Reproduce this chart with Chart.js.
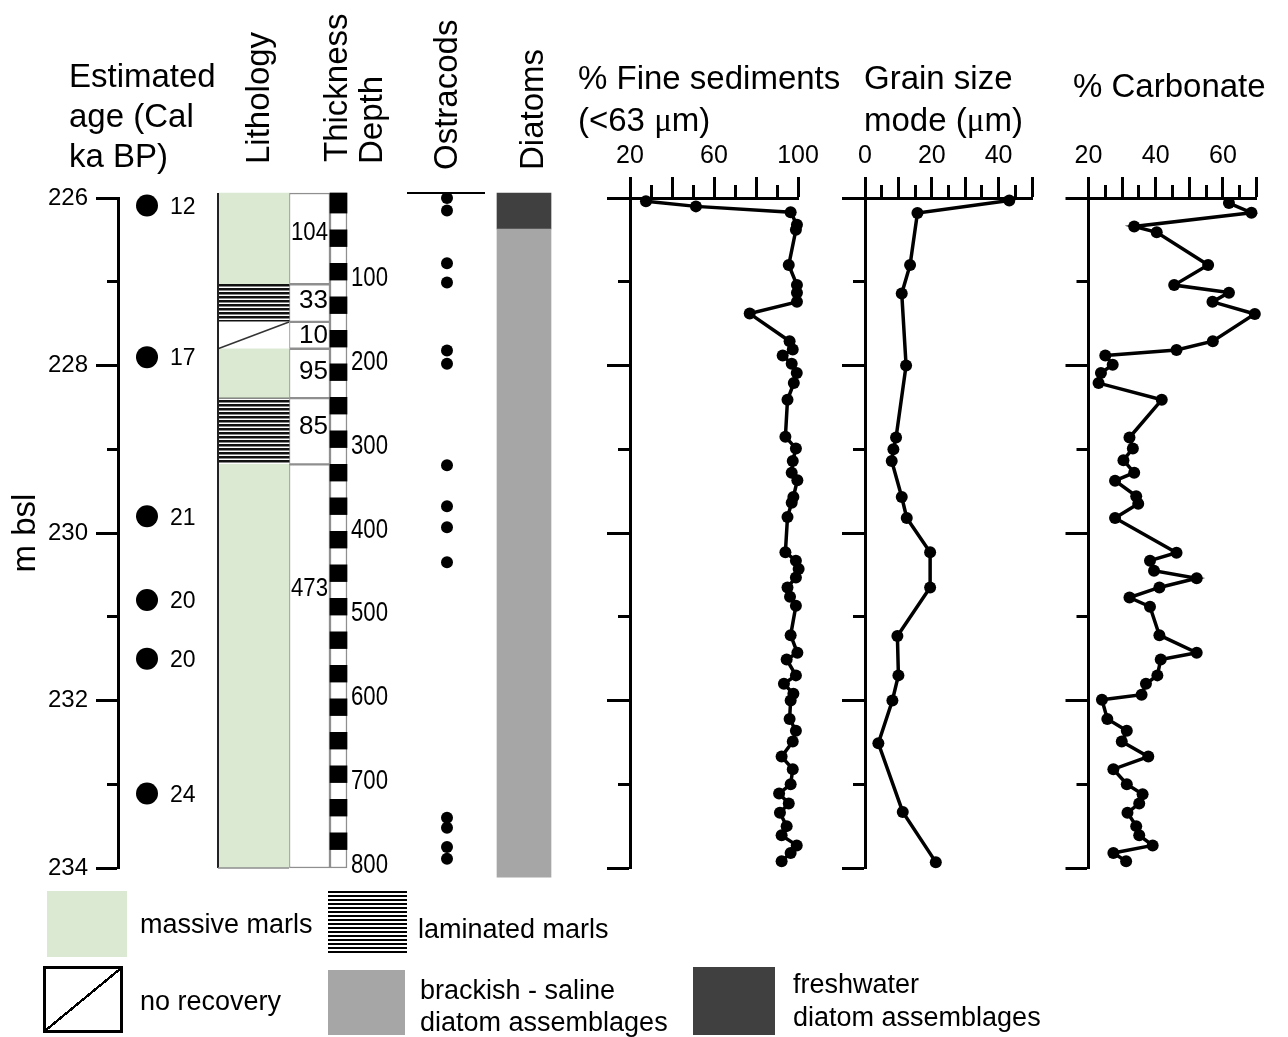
<!DOCTYPE html>
<html>
<head>
<meta charset="utf-8">
<title>Core log</title>
<script src="https://cdn.jsdelivr.net/npm/chart.js@4.4.1/dist/chart.umd.min.js"></script>
<style>
  body { margin: 0; background: #fff; }
  #page { position: relative; width: 1288px; height: 1037px; overflow: hidden; font-family: "Liberation Sans", Arial, sans-serif; color: #000; }
  #page canvas { position: absolute; left: 0; top: 0; }
  .head { position: absolute; font-size: 33px; line-height: 42px; white-space: nowrap; }
  .up { position: absolute; font-size: 33px; line-height: 33px; white-space: nowrap; transform-origin: 0 0; transform: rotate(-90deg); }
  .key { position: absolute; font-size: 27px; line-height: 30px; white-space: nowrap; }
  .swatch { position: absolute; box-sizing: border-box; }
  .mu { font-family: "Liberation Serif", serif; }
</style>
</head>
<body>
<div id="page">
  <canvas id="core" width="1288" height="1037"></canvas>
  <canvas id="fine" width="1288" height="1037"></canvas>
  <canvas id="grain" width="1288" height="1037"></canvas>
  <canvas id="carb" width="1288" height="1037"></canvas>

  <div class="head" style="left:69px;top:56px;line-height:40px">Estimated<br>age (Cal<br>ka BP)</div>
  <div class="up" style="left:241px;top:164px">Lithology</div>
  <div class="up" style="left:319px;top:162px">Thickness</div>
  <div class="up" style="left:354px;top:164px">Depth</div>
  <div class="up" style="left:429px;top:170px">Ostracods</div>
  <div class="up" style="left:515px;top:170px">Diatoms</div>
  <div class="head" style="left:578px;top:57px">% Fine sediments<br>(&lt;63 <span class="mu">μ</span>m)</div>
  <div class="head" style="left:864px;top:57px">Grain size<br>mode (<span class="mu">μ</span>m)</div>
  <div class="head" style="left:1073px;top:65px">% Carbonate</div>

  <div class="swatch" style="left:47px;top:891px;width:80px;height:66px;background:#dbe9d3"></div>
  <div class="key" style="left:140px;top:909px">massive marls</div>
  <div class="swatch" style="left:328px;top:891px;width:79px;height:64px;background:repeating-linear-gradient(#000 0 2.5px,#fff 2.5px 4px)"></div>
  <div class="key" style="left:418px;top:914px">laminated marls</div>
  <div class="swatch" style="left:43px;top:966px;width:80px;height:67px;border:3px solid #000;background:linear-gradient(to bottom right,transparent calc(50% - 1.2px),#000 calc(50% - 1.2px),#000 calc(50% + 1.2px),transparent calc(50% + 1.2px))"></div>
  <div class="key" style="left:140px;top:986px">no recovery</div>
  <div class="swatch" style="left:328px;top:970px;width:77px;height:65px;background:#a6a6a6"></div>
  <div class="key" style="left:420px;top:974px;line-height:32px">brackish - saline<br>diatom assemblages</div>
  <div class="swatch" style="left:693px;top:967px;width:82px;height:68px;background:#404040"></div>
  <div class="key" style="left:793px;top:968px;line-height:33px">freshwater<br>diatom assemblages</div>
</div>

<script>
// all depths are cm below the core top (0 cm = 226 m bsl)
const ageDepth = [9, 190, 380, 480, 550, 711];
const ageLabel = ["12", "17", "21", "20", "20", "24"];

const coreTop = -6;
const lithTop = [coreTop, 103, 148, 180, 239, 318];
const lithBottom = [103, 148, 180, 239, 318, 800];
const lithType = ["massive", "laminated", "none", "massive", "laminated", "massive"];
const thickness = ["104", "33", "10", "95", "85", "473"];
const thicknessLabelDepth = [42, 123, 165, 207, 273, 467];

const rulerStart = [0, 40, 80, 120, 160, 200, 240, 280, 320, 360, 400, 440, 480, 520, 560, 600, 640, 680, 720, 760];
const depthTicks = [100, 200, 300, 400, 500, 600, 700, 800];

const ostracodDepth = [0, 15, 78, 101, 182, 198, 319, 368, 393, 435, 740, 752, 775, 789];

const diatomTop = [coreTop, 37];
const diatomBottom = [37, 811];
const diatomType = ["freshwater", "brackish"];

const fineDepth = [4, 10, 17, 32, 38, 80, 104, 113, 124, 138, 171, 181, 188, 198, 209, 221, 241, 285, 299, 314, 328, 337, 357, 364, 381, 423, 433, 443, 453, 465, 476, 487, 522, 543, 551, 570, 580, 592, 600, 622, 636, 649, 667, 682, 700, 711, 723, 734, 750, 761, 773, 782, 792];
const fineValue = [27.6, 51.4, 96.5, 99.5, 99, 95.6, 99.5, 99.5, 99.5, 77, 96, 97.5, 92.7, 97, 99.4, 98, 95, 94, 99, 97.5, 97, 99.7, 97.8, 97, 95, 94, 99, 100.3, 99, 95, 96.2, 99, 96.5, 99.7, 94.6, 99, 93.3, 97.8, 96.5, 96, 99, 97.5, 92.2, 97.5, 96.5, 91, 95.6, 91.4, 94.6, 92.2, 99.4, 96.5, 92.2];

const grainDepth = [3, 18, 80, 114, 200, 286, 300, 314, 357, 382, 423, 465, 523, 570, 600, 651, 733, 793];
const grainValue = [43.2, 15.7, 13.5, 11, 12.3, 9.3, 8.5, 8, 11, 12.5, 19.5, 19.5, 9.7, 10, 8.2, 4, 11.3, 21.2];

const carbDepth = [6, 17.5, 34, 41, 80, 104, 113, 124, 138.5, 171, 181.5, 188, 199, 209, 221, 241, 286, 299, 313, 328, 337.5, 356, 365, 382, 423.5, 433, 445, 454, 465, 477, 488, 522, 543, 551, 570, 580, 593, 599, 622, 636, 649, 667, 682, 700, 712, 723, 734, 750, 761, 773, 782, 792];
const carbValue = [61.8, 68.5, 33.6, 40.3, 55.6, 45.5, 61.8, 56.9, 69.5, 57, 46.2, 25, 27.2, 23.7, 23, 41.8, 32.2, 33.2, 30.4, 33.6, 27.9, 34.2, 34.8, 27.9, 46.2, 38.3, 39.5, 52.2, 41.1, 32.2, 38.3, 41.1, 52.2, 41.5, 40.5, 37.1, 35.8, 24, 25.6, 31.4, 29.9, 37.8, 27.4, 31.4, 36.1, 35.1, 31.6, 34.2, 35.1, 39.1, 27.4, 31.2];

// layout (page pixels)
const depthTopPx = 198, depthBottomPx = 868;
const coreArea = { left: 118, right: 600 };
const col = { age: 147, lith: 253.5, thick: 309.5, ruler: 338.5, ostracod: 447, diatom: 524 };
const colWidth = { lith: 71, thick: 41, ruler: 17, diatom: 54 };
const FONT = '"Liberation Sans", Arial, sans-serif';

Chart.defaults.font.family = FONT;
Chart.defaults.color = "#000";
Chart.defaults.animation = false;
Chart.defaults.events = [];
Chart.defaults.plugins.legend.display = false;
Chart.defaults.plugins.tooltip.enabled = false;

// long ticks on major values, short ones (drawn only next to the axis) elsewhere
const axisGrid = (len, minor, isMajor) => ({
    drawOnChartArea: false,
    tickLength: len,
    tickWidth: 3,
    tickColor: "#000",
    tickBorderDash: (c) => (c.tick && !isMajor(c.tick.value) ? [minor, len - minor] : []),
    tickBorderDashOffset: minor
});

// shift the padding so the plot area lands on the wanted pixels
const pin = (chart, left, top) => {
    const pad = chart.config.options.layout.padding;
    pad.left += left - chart.chartArea.left;
    pad.top += top - chart.chartArea.top;
    chart.update();
};

const lamina_tile = document.createElement("canvas");
lamina_tile.width = 8;
lamina_tile.height = 4;
const tile_ctx = lamina_tile.getContext("2d");
tile_ctx.fillStyle = "#fff";
tile_ctx.fillRect(0, 0, 8, 4);
tile_ctx.fillStyle = "#111";
tile_ctx.fillRect(0, 0, 8, 2.5);
const lamina = tile_ctx.createPattern(lamina_tile, "repeat");

const lithFill = { massive: "#dbe9d3", laminated: lamina, none: "#fff" };
const diatomFill = { freshwater: "#404040", brackish: "#a6a6a6" };
const frameGrey = "#8f8f8f";

const barBase = { type: "bar", grouped: false, barPercentage: 1, categoryPercentage: 1, clip: false, borderSkipped: false };

const coreNotes = {
    id: "coreNotes",
    afterDatasetsDraw(chart) {
        const ctx = chart.ctx;
        const y = chart.scales.y;
        const meta = (label) => chart.getDatasetMeta(chart.data.datasets.findIndex((d) => d.label === label));
        ctx.save();

        const lith = meta("Lithology").data;
        const lithLeft = lith[0].x - lith[0].width / 2;
        const lithRight = lith[0].x + lith[0].width / 2;
        lith.forEach((bar, i) => {
            if (lithType[i] !== "none") return;
            ctx.strokeStyle = "#333";
            ctx.lineWidth = 1.5;
            ctx.beginPath();
            ctx.moveTo(lithLeft, Math.max(bar.y, bar.base));
            ctx.lineTo(lithRight, Math.min(bar.y, bar.base));
            ctx.stroke();
        });

        ctx.strokeStyle = "#222";
        ctx.lineWidth = 2;
        ctx.beginPath();
        ctx.moveTo(lithLeft, y.getPixelForValue(coreTop));
        ctx.lineTo(lithLeft, y.getPixelForValue(800));
        ctx.stroke();
        ctx.strokeStyle = frameGrey;
        ctx.lineWidth = 1.5;
        ctx.beginPath();
        ctx.moveTo(lithLeft, y.getPixelForValue(800));
        ctx.lineTo(lithRight, y.getPixelForValue(800));
        ctx.stroke();

        // ostracod column top line
        ctx.strokeStyle = "#000";
        ctx.lineWidth = 2;
        ctx.beginPath();
        ctx.moveTo(col.ostracod - 40, y.getPixelForValue(coreTop));
        ctx.lineTo(col.ostracod + 38, y.getPixelForValue(coreTop));
        ctx.stroke();

        ctx.fillStyle = "#000";
        ctx.textBaseline = "middle";
        ctx.textAlign = "left";
        ctx.font = "23px " + FONT;
        meta("Ages").data.forEach((pt, i) => ctx.fillText(ageLabel[i], pt.x + 23, pt.y + 2));

        ctx.textAlign = "right";
        ctx.font = "26px " + FONT;
        const thickRight = col.thick + colWidth.thick / 2;
        thickness.forEach((t, i) => ctx.fillText(t, thickRight - 2, y.getPixelForValue(thicknessLabelDepth[i]), 37));

        ctx.textAlign = "left";
        ctx.font = "28px " + FONT;
        const rulerRight = col.ruler + colWidth.ruler / 2;
        depthTicks.forEach((v) => ctx.fillText(String(v), rulerRight + 4, y.getPixelForValue(v) - 3, 37));
        ctx.restore();
    }
};

const coreConfig = {
    type: "bar",
    data: {
        datasets: [
            {
                label: "Ages", type: "scatter", clip: false, order: 0,
                data: ageDepth.map((d) => ({ x: col.age, y: d })),
                pointRadius: 11, pointBackgroundColor: "#000", pointBorderWidth: 0
            },
            {
                label: "Ostracods", type: "scatter", clip: false, order: 0,
                data: ostracodDepth.map((d) => ({ x: col.ostracod, y: d })),
                pointRadius: 6, pointBackgroundColor: "#000", pointBorderWidth: 0
            },
            {
                ...barBase, label: "Lithology", order: 3,
                data: lithTop.map((t, i) => ({ x: col.lith, y: [t, lithBottom[i]] })),
                backgroundColor: lithType.map((t) => lithFill[t]), borderWidth: 0, barThickness: colWidth.lith
            },
            {
                ...barBase, label: "Thickness", order: 3,
                data: lithTop.map((t, i) => ({ x: col.thick, y: [t, lithBottom[i]] })),
                backgroundColor: "#fff", borderColor: frameGrey, borderWidth: 1.5, barThickness: colWidth.thick
            },
            {
                ...barBase, label: "Ruler marks", order: 1,
                data: rulerStart.map((d) => ({ x: col.ruler, y: [d === 0 ? coreTop : d - 2, d + 18] })),
                backgroundColor: "#000", borderWidth: 0, barThickness: colWidth.ruler
            },
            {
                ...barBase, label: "Ruler", order: 2,
                data: [{ x: col.ruler, y: [coreTop, 800] }],
                backgroundColor: "#fff", borderColor: frameGrey, borderWidth: 1.5, barThickness: colWidth.ruler
            },
            {
                ...barBase, label: "Diatoms", order: 3,
                data: diatomTop.map((t, i) => ({ x: col.diatom, y: [t, diatomBottom[i]] })),
                backgroundColor: diatomType.map((t) => diatomFill[t]), borderWidth: 0, barThickness: colWidth.diatom
            }
        ]
    },
    options: {
        responsive: false,
        layout: { padding: { left: 12, right: 1288 - coreArea.right, top: depthTopPx, bottom: 1037 - depthBottomPx } },
        scales: {
            x: { type: "linear", display: false, offset: false, min: coreArea.left, max: coreArea.right },
            y: {
                type: "linear", position: "left", reverse: true, min: 0, max: 800,
                ticks: {
                    stepSize: 100, padding: 8, font: { size: 24, lineHeight: 1 },
                    callback: (v) => (v % 200 === 0 ? String(226 + v / 100) : "")
                },
                grid: axisGrid(22, 11, (v) => v % 200 === 0),
                border: { color: "#000", width: 3 },
                title: { display: true, text: "m bsl", font: { size: 33, lineHeight: 0.85 }, padding: 0 }
            }
        }
    },
    plugins: [coreNotes]
};
const coreChart = new Chart(document.getElementById("core"), coreConfig);
pin(coreChart, coreArea.left, depthTopPx);

const profileChart = (id, depths, values, range, step, isMajor, labelled, area) => {
    const chart = new Chart(document.getElementById(id), {
        type: "scatter",
        data: {
            datasets: [{
                data: depths.map((d, i) => ({ x: values[i], y: d })),
                showLine: true, borderColor: "#000", borderWidth: 3.5,
                pointRadius: 6, pointBackgroundColor: "#000", pointBorderWidth: 0, clip: false
            }]
        },
        options: {
            responsive: false,
            layout: { padding: { left: area.left - 23, right: 1288 - area.right, top: 135, bottom: 1037 - depthBottomPx } },
            scales: {
                x: {
                    type: "linear", position: "top", min: range[0], max: range[1],
                    ticks: {
                        stepSize: step, autoSkip: false, maxRotation: 0, minRotation: 0, padding: 8,
                        font: { size: 25, lineHeight: 1 },
                        callback: (v) => (labelled.includes(v) ? String(v) : "")
                    },
                    grid: axisGrid(21, 13, isMajor),
                    border: { color: "#000", width: 3 }
                },
                y: {
                    type: "linear", reverse: true, min: 0, max: 800,
                    ticks: { stepSize: 100, display: false },
                    grid: axisGrid(23, 12, (v) => v % 200 === 0),
                    border: { color: "#000", width: 3 }
                }
            }
        }
    });
    pin(chart, area.left, depthTopPx);
    return chart;
};

profileChart("fine", fineDepth, fineValue, [20, 100], 10, (v) => v % 20 === 0, [20, 60, 100], { left: 630, right: 798 });
profileChart("grain", grainDepth, grainValue, [0, 50], 5, (v) => v % 10 === 0, [0, 20, 40], { left: 865, right: 1032 });
profileChart("carb", carbDepth, carbValue, [20, 70], 5, (v) => v % 10 === 0, [20, 40, 60], { left: 1088.5, right: 1256.5 });
</script>
</body>
</html>
